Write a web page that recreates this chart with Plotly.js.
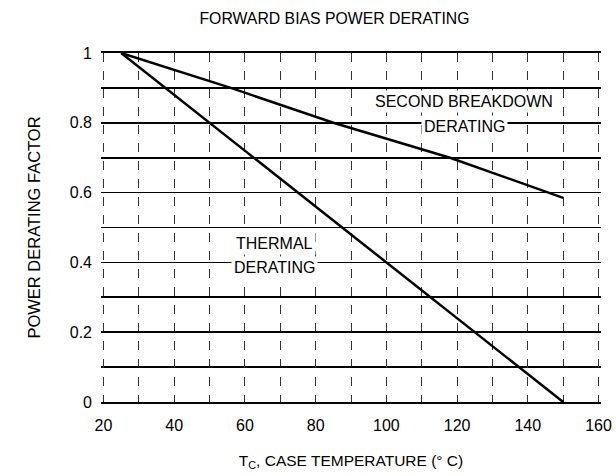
<!DOCTYPE html>
<html>
<head>
<meta charset="utf-8">
<script src="https://cdn.plot.ly/plotly-3.0.1.min.js"></script>
<style>html,body{margin:0;padding:0;background:#fff;}#chart{width:616px;height:476px;}</style>
</head>
<body>
<div id="chart"></div>
<script>
// Data
const thermalTemp = [25, 150];
const thermalFactor = [1, 0];
const breakdownTemp = [25, 56, 85, 118, 150];
const breakdownFactor = [1, 0.9, 0.8, 0.7, 0.585];
const xTickVals = [20, 40, 60, 80, 100, 120, 140, 160];
const yTickVals = [0, 0.2, 0.4, 0.6, 0.8, 1];
const labelTexts = ["SECOND BREAKDOWN", "DERATING", "THERMAL", "DERATING"];
const labelX = [122, 122, 68.5, 68.5];
const labelY = [0.86, 0.79, 0.453, 0.384];
const titles = {
  title: "FORWARD BIAS POWER DERATING",
  xTitle: "T<sub>C</sub>, CASE TEMPERATURE (° C)",
  yTitle: "POWER DERATING FACTOR"
};

const font = "Liberation Sans, Arial, sans-serif";

const traces = [
  {x: thermalTemp, y: thermalFactor, mode: "lines", line: {color: "#000", width: 2.5}, showlegend: false, hoverinfo: "skip"},
  {x: breakdownTemp, y: breakdownFactor, mode: "lines", line: {color: "#000", width: 2.5}, showlegend: false, hoverinfo: "skip"}
];

const layout = {
  width: 616, height: 476,
  margin: {l: 101, r: 15, t: 53, b: 74},
  paper_bgcolor: "#fff", plot_bgcolor: "#fff",
  font: {family: font, color: "#000", size: 16},
  title: {text: titles.title, x: 0.543, xanchor: "center", y: 0.962, yanchor: "middle", font: {size: 15.8, family: font}},
  xaxis: {
    range: [19.3, 160.7], tickvals: xTickVals, ticks: "", zeroline: false,
    showline: true, mirror: true, linecolor: "#000", linewidth: 1.6,
    showgrid: true, gridcolor: "#333", gridwidth: 1, griddash: "dash",
    minor: {dtick: 10, tick0: 0, showgrid: true, gridcolor: "#333", gridwidth: 1, griddash: "dash", ticks: ""},
    tickfont: {size: 16}, ticklabelstandoff: 8,
    title: {text: titles.xTitle, font: {size: 15.5}, standoff: 22}
  },
  yaxis: {
    range: [0, 1], tickvals: yTickVals, ticks: "", showline: false, zeroline: false,
    showgrid: true, gridcolor: "#000", gridwidth: 1.6,
    minor: {dtick: 0.1, tick0: 0, showgrid: true, gridcolor: "#000", gridwidth: 1.6, ticks: ""},
    tickfont: {size: 16}, ticklabelstandoff: 8,
    title: {text: titles.yTitle, font: {size: 16.5}, standoff: 24}
  },
  annotations: labelTexts.map((t, i) => ({
    x: labelX[i], y: labelY[i], xref: "x", yref: "y", text: t, showarrow: false,
    font: {size: 16}, bgcolor: "#fff", borderpad: 2, align: "center"
  }))
};

Plotly.newPlot("chart", traces, layout, {displayModeBar: false, staticPlot: true});
</script>
</body>
</html>
